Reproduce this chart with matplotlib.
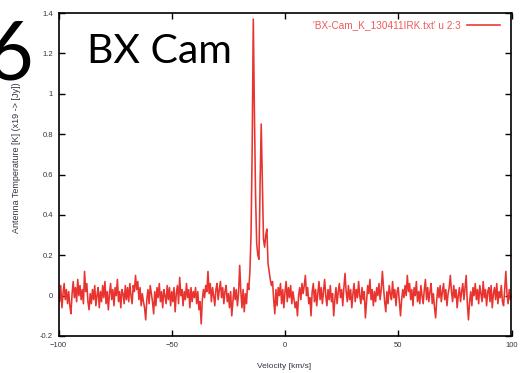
import numpy as np
import matplotlib.pyplot as plt

# velocity grid, km/s (0.5 km/s channels)
velocity = np.arange(-100, 100.01, 0.5)

# antenna temperature [K], 20 channels per row
temperature = [
    0.02, -0.03, 0.05, -0.06, 0.01, 0.06, -0.02, 0.03, -0.04, 0.02, -0.05, -0.09, 0.01, 0.07, -0.01, 0.04, -0.03, 0.08, 0.00, 0.05,
    -0.02, 0.03, -0.04, 0.12, 0.02, 0.06, -0.03, -0.07, 0.01, -0.04, 0.03, -0.02, 0.05, -0.05, 0.00, 0.04, -0.06, 0.02, -0.03, 0.05,
    -0.01, 0.07, -0.04, 0.02, -0.07, 0.01, 0.06, -0.02, 0.03, -0.05, 0.04, 0.00, 0.08, -0.03, 0.02, -0.06, 0.03, 0.01, -0.04, 0.05,
    -0.02, 0.04, -0.03, 0.06, 0.00, -0.04, 0.05, 0.02, 0.10, 0.03, 0.07, -0.02, 0.04, -0.05, 0.01, -0.03, -0.06, -0.12, -0.02, 0.03,
    -0.04, 0.05, 0.01, -0.03, -0.09, 0.02, -0.05, 0.04, -0.01, 0.06, -0.03, 0.02, -0.06, 0.03, 0.00, -0.04, 0.05, -0.02, 0.04, -0.05,
    0.02, -0.03, 0.04, -0.08, 0.01, 0.05, -0.04, 0.09, 0.00, 0.03, -0.05, 0.02, -0.02, 0.06, -0.01, 0.03, -0.06, 0.04, -0.03, 0.02,
    -0.01, 0.04, -0.04, 0.02, -0.07, -0.03, -0.14, -0.02, 0.03, -0.01, 0.05, 0.02, 0.12, 0.01, 0.06, -0.03, 0.04, 0.00, -0.05, 0.03,
    0.06, -0.02, 0.03, 0.07, -0.01, 0.04, -0.04, 0.02, 0.05, -0.03, 0.01, -0.06, 0.02, -0.10, -0.03, 0.04, -0.02, 0.03, -0.05, 0.01,
    0.15, 0.02, -0.06, 0.03, -0.08, 0.01, -0.04, 0.06, 0.03, 0.12, 0.30, 0.72, 1.37, 0.90, 0.50, 0.26, 0.20, 0.18, 0.55, 0.85,
    0.56, 0.28, 0.24, 0.30, 0.33, 0.16, 0.12, 0.08, 0.05, 0.07, -0.02, -0.09, 0.03, -0.05, 0.04, 0.00, 0.06, -0.04, 0.03, -0.06,
    0.02, 0.07, -0.03, 0.04, -0.01, 0.05, -0.04, 0.02, -0.02, -0.06, -0.03, -0.10, 0.00, 0.04, -0.02, 0.06, 0.01, 0.05, 0.10, 0.00,
    0.04, -0.04, -0.01, -0.10, 0.02, 0.06, -0.03, 0.03, -0.05, 0.01, 0.07, -0.02, 0.04, -0.04, 0.02, 0.08, 0.00, -0.05, 0.03, -0.02,
    0.05, -0.03, 0.01, -0.10, -0.02, 0.04, -0.04, 0.02, 0.06, -0.01, 0.03, -0.05, 0.04, 0.11, 0.02, -0.03, 0.05, -0.02, 0.03, -0.06,
    0.01, 0.06, -0.03, 0.03, -0.01, 0.07, 0.00, -0.04, 0.04, -0.02, 0.02, -0.11, -0.03, 0.05, 0.01, 0.08, -0.02, 0.03, -0.05, 0.02,
    -0.03, 0.04, 0.00, 0.06, -0.02, 0.03, 0.12, 0.04, -0.03, -0.08, 0.02, -0.04, 0.05, 0.01, -0.02, 0.07, -0.01, 0.03, -0.05, 0.02,
    0.04, -0.03, -0.10, -0.02, 0.03, -0.01, 0.05, 0.00, 0.10, 0.02, 0.06, -0.02, 0.03, -0.05, 0.04, 0.00, 0.07, -0.03, 0.02, -0.04,
    0.05, 0.00, -0.04, 0.03, 0.08, -0.02, 0.04, -0.03, 0.02, 0.06, -0.04, 0.01, -0.06, -0.11, -0.02, 0.04, -0.01, 0.05, -0.03, 0.02,
    0.06, -0.02, 0.03, -0.05, 0.01, 0.04, 0.10, 0.02, -0.03, 0.05, -0.01, 0.03, -0.06, 0.00, 0.04, -0.03, 0.02, 0.06, -0.02, 0.04,
    0.10, -0.04, -0.12, -0.03, 0.02, -0.05, 0.04, 0.00, 0.06, -0.02, 0.03, -0.04, 0.05, 0.01, -0.03, 0.07, -0.01, 0.03, -0.05, 0.02,
    0.04, -0.03, 0.05, -0.06, 0.01, 0.04, -0.02, 0.06, -0.04, 0.02, -0.01, 0.05, -0.03, -0.05, 0.03, 0.12, 0.01, -0.04, 0.03, -0.02,
    0.00,
]

legend_label = "'BX-Cam_K_130411IRK.txt' u 2:3"
xticks = [-100, -50, 0, 50, 100]
yticks = [-0.2, 0, 0.2, 0.4, 0.6, 0.8, 1, 1.2, 1.4]

plt.rcParams['font.family'] = ['Liberation Sans', 'DejaVu Sans']

fig = plt.figure(figsize=(5.22, 3.73), dpi=100)
ax = fig.add_axes([58.5/522, 37/373, 453/522, 323/373])

ax.plot(velocity, temperature, color='#e8332f', lw=1.15, label=legend_label)

ax.set_xlim(-100, 100)
ax.set_ylim(-0.2, 1.4)
ax.set_xticks(xticks)
ax.set_yticks(yticks)
ax.set_yticklabels([f'{t:g}' for t in yticks])
ax.tick_params(direction='in', length=4, width=1, top=True, right=True,
               labelsize=5.5, labelcolor='#333344', pad=4)
for s in ax.spines.values():
    s.set_linewidth(1.2)

leg = ax.legend(loc='upper right', frameon=False, fontsize=7.2,
                markerfirst=False, handlelength=3.3, handletextpad=0.6,
                borderaxespad=0.3, bbox_to_anchor=(0.99, 1.0))
for t in leg.get_texts():
    t.set_color('#f05a5a')

fig.text(284/522, 1 - 367/373, 'Velocity [km/s]', ha='center', va='center',
         fontsize=6, color='#333344')
fig.text(17/522, 1 - 158/373, 'Antenna Temperature [K] (x19 -> [Jy])',
         rotation=90, ha='center', va='center', fontsize=6.5, color='#333344')

fig.text(87/522, 1 - 63/373, 'BX Cam', fontsize=29.5, family='Lato',
         ha='left', va='baseline')
fig.text(33/522, 1 - 80/373, '6', fontsize=58, family='Lato',
         ha='right', va='baseline')

fig.savefig('out.png', dpi=100)
